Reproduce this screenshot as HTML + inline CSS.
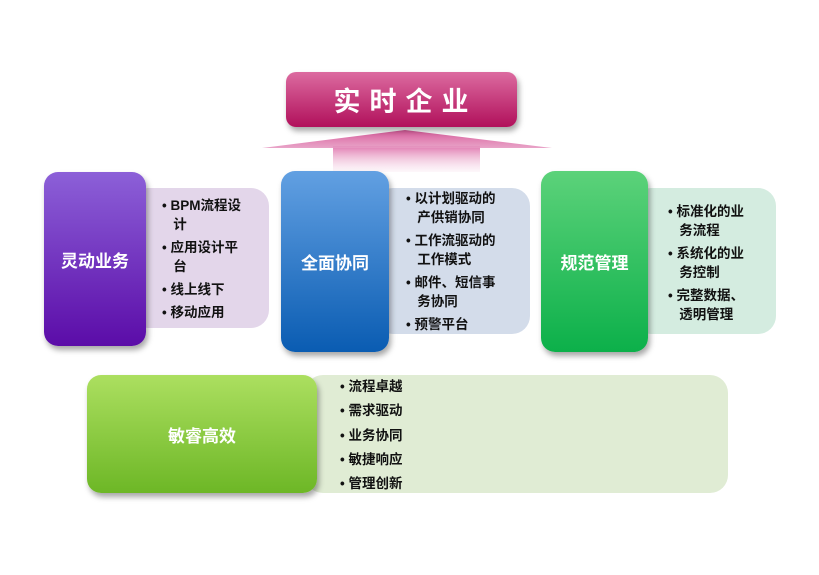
<!DOCTYPE html>
<html><head><meta charset="utf-8"><style>
body{margin:0;width:819px;height:575px;background:#fff;position:relative;overflow:hidden;font-family:"Liberation Sans","Noto Sans CJK SC",sans-serif;}
.a{position:absolute}
.box{position:absolute;border-radius:14px;color:#fff;font-weight:bold;font-size:17px;display:flex;align-items:center;justify-content:center;box-shadow:2px 4px 6px rgba(0,0,0,.35)}
.pan{position:absolute;border-radius:18px}
.t{position:absolute;font-size:13.5px;font-weight:bold;color:#111;line-height:19px;white-space:nowrap}
.t div{margin-top:4px}
.t div:first-child{margin-top:0}
</style></head><body>
<svg class="a" style="left:0;top:0" width="819" height="575">
<defs>
<linearGradient id="ar" x1="0" y1="0" x2="0" y2="1"><stop offset="0" stop-color="#d75a9a"/><stop offset="1" stop-color="#e69ac2" stop-opacity=".9"/></linearGradient>
<linearGradient id="sh" x1="0" y1="0" x2="0" y2="1"><stop offset="0" stop-color="#e07ab0"/><stop offset="1" stop-color="#f5d6e6" stop-opacity=".2"/></linearGradient>
</defs>
<rect x="333" y="146" width="147" height="26" fill="url(#sh)"/>
<polygon points="405,130 552,148 262,148" fill="url(#ar)"/>
</svg>
<div class="box" style="left:286px;top:72px;width:231px;height:55px;border-radius:10px;background:linear-gradient(#dc6ba0,#b1105b);font-size:27px;letter-spacing:9px;padding-left:8px;box-sizing:border-box">实时企业</div>

<div class="pan" style="left:130px;top:188px;width:139px;height:140px;background:#e3d6ea"></div>
<div class="box" style="left:44px;top:172px;width:102px;height:174px;background:linear-gradient(#8c60d8,#5b0ca8)">灵动业务</div>
<div class="t" style="left:162px;top:196px"><div>• BPM流程设<br>&nbsp;&nbsp;&nbsp;计</div><div>• 应用设计平<br>&nbsp;&nbsp;&nbsp;台</div><div>• 线上线下</div><div>• 移动应用</div></div>

<div class="pan" style="left:375px;top:188px;width:155px;height:146px;background:#d3dcea"></div>
<div class="box" style="left:281px;top:171px;width:108px;height:181px;background:linear-gradient(#62a0e2,#0a5cb2)">全面协同</div>
<div class="t" style="left:406px;top:189px"><div>• 以计划驱动的<br>&nbsp;&nbsp;&nbsp;产供销协同</div><div>• 工作流驱动的<br>&nbsp;&nbsp;&nbsp;工作模式</div><div>• 邮件、短信事<br>&nbsp;&nbsp;&nbsp;务协同</div><div>• 预警平台</div></div>

<div class="pan" style="left:633px;top:188px;width:143px;height:146px;background:#d4ece0"></div>
<div class="box" style="left:541px;top:171px;width:107px;height:181px;background:linear-gradient(#5cd27a,#0cb04a)">规范管理</div>
<div class="t" style="left:668px;top:202px"><div>• 标准化的业<br>&nbsp;&nbsp;&nbsp;务流程</div><div>• 系统化的业<br>&nbsp;&nbsp;&nbsp;务控制</div><div>• 完整数据、<br>&nbsp;&nbsp;&nbsp;透明管理</div></div>

<div class="pan" style="left:305px;top:375px;width:423px;height:118px;background:#e0ecd4"></div>
<div class="box" style="left:87px;top:375px;width:230px;height:118px;background:linear-gradient(#acdf60,#6db726)">敏睿高效</div>
<div class="t" style="left:340px;top:375px;line-height:24.3px">• 流程卓越<br>• 需求驱动<br>• 业务协同<br>• 敏捷响应<br>• 管理创新</div>
</body></html>
